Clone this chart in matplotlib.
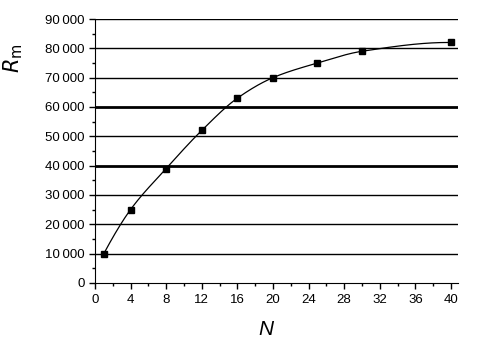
import numpy as np
import matplotlib
matplotlib.use("Agg")
import matplotlib.pyplot as plt
from matplotlib.ticker import MultipleLocator, FuncFormatter

# data
N = [1, 4, 8, 12, 16, 20, 25, 30, 40]
Rm = [10000, 25000, 39000, 52000, 63000, 70000, 75000, 79000, 82000]
thin_grid = [10000, 20000, 30000, 50000, 70000, 80000, 90000]
thick_grid = [40000, 60000]


# smooth monotone curve through the points (Fritsch-Carlson pchip)
def pchip(x, y, xn):
    x = np.asarray(x, float)
    y = np.asarray(y, float)
    h = np.diff(x)
    d = np.diff(y) / h
    m = np.zeros_like(y)
    for k in range(1, len(x) - 1):
        if d[k - 1] * d[k] > 0:
            w1 = 2 * h[k] + h[k - 1]
            w2 = h[k] + 2 * h[k - 1]
            m[k] = (w1 + w2) / (w1 / d[k - 1] + w2 / d[k])
    m[0] = ((2 * h[0] + h[1]) * d[0] - h[0] * d[1]) / (h[0] + h[1])
    m[-1] = ((2 * h[-1] + h[-2]) * d[-1] - h[-1] * d[-2]) / (h[-1] + h[-2])
    idx = np.clip(np.searchsorted(x, xn) - 1, 0, len(x) - 2)
    t = (xn - x[idx]) / h[idx]
    h00 = 2 * t**3 - 3 * t**2 + 1
    h10 = t**3 - 2 * t**2 + t
    h01 = -2 * t**3 + 3 * t**2
    h11 = t**3 - t**2
    return (h00 * y[idx] + h10 * h[idx] * m[idx]
            + h01 * y[idx + 1] + h11 * h[idx] * m[idx + 1])


xf = np.linspace(min(N), max(N), 400)
yf = pchip(N, Rm, xf)

plt.rcParams['font.family'] = ['Liberation Sans', 'DejaVu Sans']
fig = plt.figure(figsize=(4.92, 3.40), dpi=100)
ax = fig.add_axes([0.193, 0.168, 0.738, 0.776])

for g in thin_grid:
    ax.axhline(g, color='black', lw=1.0, zorder=1)
for g in thick_grid:
    ax.axhline(g, color='black', lw=2.0, zorder=1)

ax.plot(xf, yf, color='black', lw=0.9, zorder=2)
ax.plot(N, Rm, ls='none', marker='s', ms=5, color='black', zorder=3)

ax.set_xlim(0, 40.8)
ax.set_ylim(0, 90000)
ax.xaxis.set_major_locator(MultipleLocator(4))
ax.xaxis.set_minor_locator(MultipleLocator(2))
ax.yaxis.set_major_locator(MultipleLocator(10000))
ax.yaxis.set_minor_locator(MultipleLocator(5000))
ax.yaxis.set_major_formatter(FuncFormatter(
    lambda v, p: f"{int(v):,}".replace(",", "\u2009")))

ax.spines['top'].set_visible(False)
ax.spines['right'].set_visible(False)
ax.tick_params(which='major', direction='out', length=4, width=1, labelsize=9.5)
ax.tick_params(which='minor', direction='out', length=2.5, width=1)
ax.tick_params(axis='x', pad=4)

fig.text(0.027, 0.83, r'$R_{\rm m}$', rotation=90, fontsize=15,
         ha='center', va='center', fontstyle='italic')
fig.text(0.54, 0.03, 'N', fontsize=15, fontstyle='italic',
         ha='center', va='center')

fig.savefig('out.png', dpi=100)
